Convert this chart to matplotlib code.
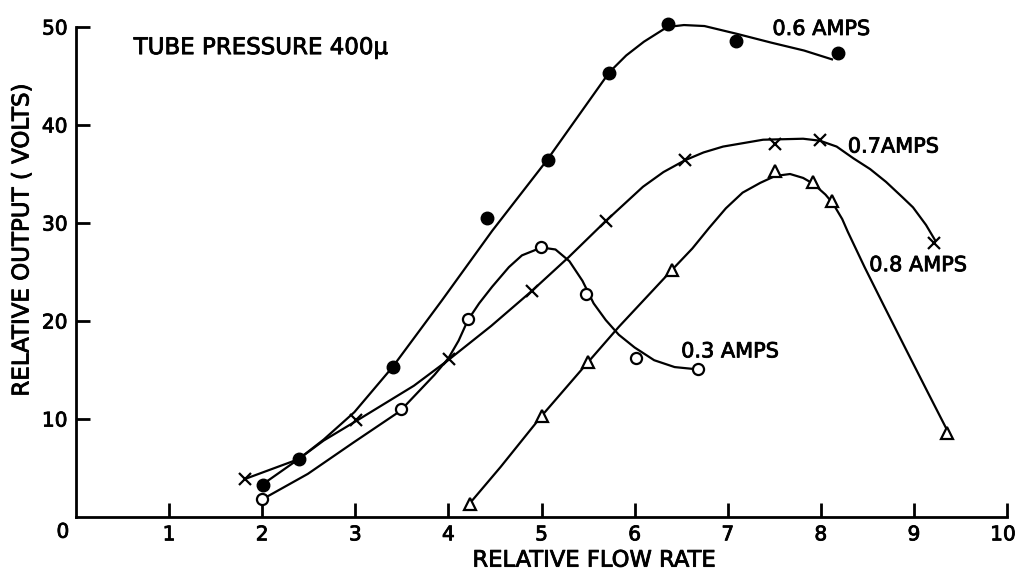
import matplotlib
matplotlib.use("Agg")
import matplotlib.pyplot as plt
import matplotlib.patheffects as pe
from matplotlib.transforms import ScaledTranslation

# measured points, one set per heater current
amp06_x = [2.01, 2.40, 3.40, 4.41, 5.07, 5.73, 6.36, 7.09, 8.18]
amp06_y = [3.3, 5.9, 15.3, 30.5, 36.4, 45.3, 50.3, 48.6, 47.3]

amp07_x = [1.82, 3.01, 4.01, 4.90, 5.69, 6.54, 7.51, 7.99, 9.22]
amp07_y = [3.9, 9.9, 16.1, 23.1, 30.2, 36.4, 38.1, 38.5, 28.0]

amp08_x = [4.23, 5.00, 5.50, 6.40, 7.51, 7.92, 8.12, 9.36]
amp08_y = [1.3, 10.3, 15.8, 25.2, 35.3, 34.2, 32.2, 8.6]

amp03_x = [2.00, 3.49, 4.21, 4.99, 5.48, 6.02, 6.68]
amp03_y = [1.8, 11.0, 20.2, 27.6, 22.8, 16.2, 15.1]

# hand-faired curves drawn through each set
fair06_x = [2.00, 2.39, 2.66, 2.99, 3.40, 3.93, 4.47, 5.05, 5.73, 5.91, 6.10,
            6.35, 6.53, 6.75, 7.10, 7.47, 7.82, 8.12]
fair06_y = [3.3, 5.9, 7.9, 10.7, 15.3, 22.1, 29.2, 36.3, 45.4, 47.1, 48.5,
            50.0, 50.2, 50.1, 49.3, 48.4, 47.6, 46.7]

fair07_x = [1.82, 2.39, 2.66, 3.01, 3.63, 4.01, 4.46, 4.90, 5.29, 5.69, 6.09,
            6.31, 6.54, 6.74, 6.95, 7.38, 7.81, 7.99, 8.17, 8.35, 8.53, 8.70,
            8.88, 8.99, 9.13, 9.23]
fair07_y = [3.9, 5.9, 7.8, 9.8, 13.4, 16.1, 19.5, 23.1, 26.5, 30.2, 33.7,
            35.2, 36.4, 37.2, 37.8, 38.5, 38.6, 38.4, 37.8, 36.6, 35.5, 34.2,
            32.6, 31.6, 29.8, 28.2]

fair08_x = [4.23, 4.56, 5.00, 5.50, 5.83, 6.40, 6.62, 6.80, 6.98, 7.16, 7.35,
            7.51, 7.67, 7.81, 7.92, 8.05, 8.13, 8.23, 8.29, 8.47, 8.67, 8.92,
            9.15, 9.36]
fair08_y = [1.4, 5.1, 10.3, 15.8, 19.4, 25.2, 27.4, 29.5, 31.5, 33.1, 34.1,
            34.8, 35.0, 34.6, 34.0, 32.9, 32.0, 30.4, 29.1, 25.5, 21.7, 17.0,
            12.7, 8.8]

fair03_x = [2.00, 2.49, 2.98, 3.48, 3.67, 3.85, 4.00, 4.11, 4.21, 4.33, 4.47,
            4.65, 4.79, 5.00, 5.15, 5.30, 5.44, 5.56, 5.69, 5.83, 6.00, 6.21,
            6.43, 6.64]
fair03_y = [1.8, 4.4, 7.6, 10.8, 12.7, 14.5, 16.2, 18.0, 20.1, 21.8, 23.5,
            25.5, 26.7, 27.5, 27.3, 26.1, 24.1, 21.8, 20.1, 18.6, 17.3, 16.0,
            15.3, 15.1]

x_ticks = [1, 2, 3, 4, 5, 6, 7, 8, 9, 10]
y_ticks = [10, 20, 30, 40, 50]

FONT = ["DejaVu Sans"]
LW = 1.6
# heavier strokes for the stencil-style lettering
heavy = [pe.withStroke(linewidth=0.6, foreground="black")]

fig = plt.figure(figsize=(10.17, 5.76), dpi=100)
ax = fig.add_axes([0.0747, 0.1024, 0.9155, 0.8507])

line_kw = dict(color="black", lw=LW, clip_on=False, zorder=2)
ax.plot(fair06_x, fair06_y, **line_kw)
ax.plot(fair07_x, fair07_y, **line_kw)
ax.plot(fair08_x, fair08_y, **line_kw)
ax.plot(fair03_x, fair03_y, **line_kw)

mk_kw = dict(ls="none", color="black", clip_on=False, zorder=3)
ax.plot(amp06_x, amp06_y, marker="o", ms=9, mfc="black", **mk_kw)
ax.plot(amp07_x, amp07_y, marker="x", ms=8, mew=1.6, **mk_kw)
ax.plot(amp08_x, amp08_y, marker="^", ms=9, mfc="white", mew=1.6, **mk_kw)
ax.plot(amp03_x, amp03_y, marker="o", ms=8, mfc="white", mew=1.6, **mk_kw)

ax.set_xlim(0, 10)
ax.set_ylim(0, 50)
for side in ["top", "right"]:
    ax.spines[side].set_visible(False)
for side in ["left", "bottom"]:
    ax.spines[side].set_linewidth(2.0)

ax.set_xticks(x_ticks)
ax.set_yticks(y_ticks)
ax.tick_params(direction="in", length=10, width=2.0, labelsize=14.5, pad=6)
for lab in ax.get_xticklabels() + ax.get_yticklabels():
    lab.set_family(FONT)
    lab.set_path_effects(heavy)
# keep the last x label inside the frame
last = ax.get_xticklabels()[-1]
last.set_transform(last.get_transform()
                   + ScaledTranslation(-0.04, 0, fig.dpi_scale_trans))

txt_kw = dict(fontsize=15, family=FONT, va="center", ha="left",
              path_effects=heavy)
ax.text(7.48, 49.8, "0.6 AMPS", **txt_kw)
ax.text(8.29, 37.8, "0.7AMPS", **txt_kw)
ax.text(8.52, 25.7, "0.8 AMPS", **txt_kw)
ax.text(6.50, 16.9, "0.3 AMPS", **txt_kw)
ax.text(0.62, 47.9, "TUBE PRESSURE 400\u03bc", fontsize=16.5, family=FONT,
        va="center", ha="left", path_effects=heavy)

# shared origin label sits off the corner
ax.text(-0.014, -0.031, "0", transform=ax.transAxes, fontsize=14.5,
        family=FONT, ha="center", va="center", path_effects=heavy)

ax.text(0.557, -0.088, "RELATIVE FLOW RATE", transform=ax.transAxes,
        fontsize=16.3, family=FONT, ha="center", va="center",
        path_effects=heavy)
ax.text(-0.058, 0.565, "RELATIVE OUTPUT ( VOLTS)", transform=ax.transAxes,
        fontsize=16.5, family=FONT, ha="center", va="center", rotation=90,
        path_effects=heavy)

fig.savefig("out.png", dpi=100)
